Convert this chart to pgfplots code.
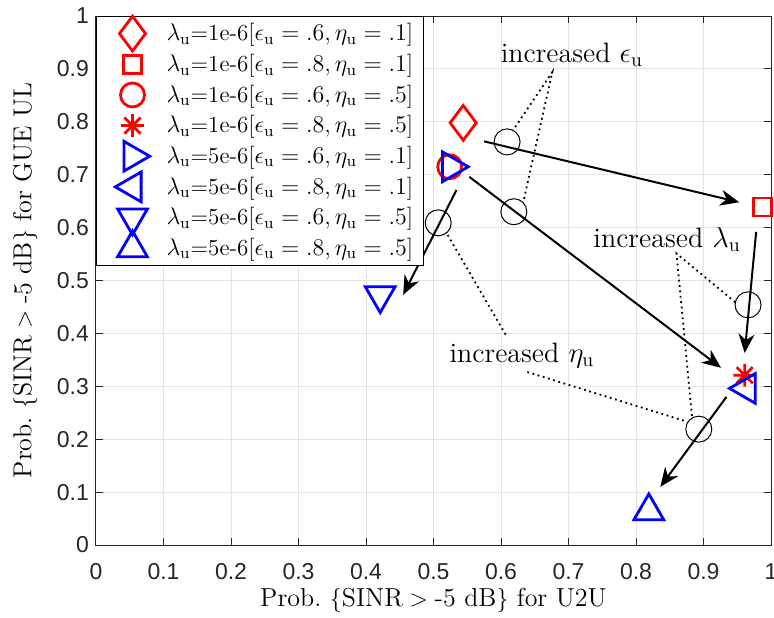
\documentclass[border=0pt]{standalone}
\usepackage{amsmath}
\usepackage{fontspec}
\usepackage{pgfplots}
\pgfplotsset{compat=1.18}
\usetikzlibrary{arrows.meta}
\newfontfamily\tickfont{Liberation Sans}
\definecolor{axgray}{RGB}{38,38,38}
\definecolor{mred}{RGB}{255,0,0}
\definecolor{mblue}{RGB}{0,0,255}
% MATLAB-style asterisk: plus and cross together
\pgfdeclareplotmark{ast8}{%
  \pgfpathmoveto{\pgfqpoint{-\pgfplotmarksize}{0pt}}\pgfpathlineto{\pgfqpoint{\pgfplotmarksize}{0pt}}%
  \pgfpathmoveto{\pgfqpoint{0pt}{-\pgfplotmarksize}}\pgfpathlineto{\pgfqpoint{0pt}{\pgfplotmarksize}}%
  \pgfpathmoveto{\pgfqpoint{-.7071\pgfplotmarksize}{-.7071\pgfplotmarksize}}\pgfpathlineto{\pgfqpoint{.7071\pgfplotmarksize}{.7071\pgfplotmarksize}}%
  \pgfpathmoveto{\pgfqpoint{-.7071\pgfplotmarksize}{.7071\pgfplotmarksize}}\pgfpathlineto{\pgfqpoint{.7071\pgfplotmarksize}{-.7071\pgfplotmarksize}}%
  \pgfusepathqstroke}
\newcommand\labfont{\fontsize{13}{15}\selectfont}
\newcommand\legfont{\fontsize{11.5}{13}\selectfont}
\newcommand\annfont{\fontsize{14}{16}\selectfont}
\newcommand\U{\mathrm{u}}
\begin{document}
\begin{tikzpicture}
\useasboundingbox (-48pt,-36pt) rectangle (339pt,272.5pt);
\begin{axis}[
  at={(0,0)}, anchor=south west,
  width=337.5pt, height=264.5pt, scale only axis,
  xmin=0, xmax=1, ymin=0, ymax=1,
  xtick={0,0.1,0.2,0.3,0.4,0.5,0.6,0.7,0.8,0.9,1},
  ytick={0,0.1,0.2,0.3,0.4,0.5,0.6,0.7,0.8,0.9,1},
  grid=major, major grid style={color=black!11, line width=0.5pt},
  axis line style={axgray, line width=0.5pt},
  tick style={axgray, line width=0.5pt},
  tick align=inside, major tick length=3.5pt,
  tick label style={font=\tickfont\fontsize{11.5}{13}\selectfont, text=axgray},
  xticklabel style={anchor=base, yshift=-17pt},
  /pgf/number format/assume math mode=true,
  label style={font=\labfont},
  xlabel={Prob.\ $\{\mathrm{SINR}>\text{-5 dB}\}$ for U2U},
  ylabel={Prob.\ $\{\mathrm{SINR}>\text{-5 dB}\}$ for GUE UL},
  xlabel style={at={(axis description cs:0.5,-0.104)}, anchor=center},
  ylabel style={at={(axis description cs:-0.105,0.5)}, anchor=center},
  legend style={at={(0,1)}, anchor=north west, draw=black, line width=0.5pt,
    fill=white, font=\legfont, inner xsep=2pt, inner ysep=2pt, row sep=2.2pt,
    nodes={inner xsep=3pt, inner ysep=1.5pt}},
  legend cell align=left,
  legend image code/.code={\path[draw=none, fill=none] (0pt,-5pt) rectangle (30pt,5pt);
    \draw[#1,overlay] plot coordinates {(16pt,0pt)};},
]
% markers
\addplot[only marks, mred, mark=diamond, mark size=8.7pt, mark options={line width=1.4pt}]
  coordinates {(0.544,0.798)};
\addlegendentry{$\lambda_\U$=1e-6[$\epsilon_\U=.6,\eta_\U=.1$]}
\addplot[only marks, mred, mark=square, mark size=4.5pt, mark options={line width=1.4pt}]
  coordinates {(0.987,0.639)};
\addlegendentry{$\lambda_\U$=1e-6[$\epsilon_\U=.8,\eta_\U=.1$]}
\addplot[only marks, mred, mark=o, mark size=6pt, mark options={line width=1.4pt}]
  coordinates {(0.524,0.715)};
\addlegendentry{$\lambda_\U$=1e-6[$\epsilon_\U=.6,\eta_\U=.5$]}
\addplot[only marks, mred, mark=ast8, mark size=5.7pt, mark options={line width=1.4pt}]
  coordinates {(0.961,0.321)};
\addlegendentry{$\lambda_\U$=1e-6[$\epsilon_\U=.8,\eta_\U=.5$]}
\addplot[only marks, mblue, mark=triangle, mark size=8.6pt, mark options={line width=1.4pt, rotate=-90}]
  coordinates {(0.526,0.715)};
\addlegendentry{$\lambda_\U$=5e-6[$\epsilon_\U=.6,\eta_\U=.1$]}
\addplot[only marks, mblue, mark=triangle, mark size=8.6pt, mark options={line width=1.4pt, rotate=90}]
  coordinates {(0.964,0.296)};
\addlegendentry{$\lambda_\U$=5e-6[$\epsilon_\U=.8,\eta_\U=.1$]}
\addplot[only marks, mblue, mark=triangle, mark size=8.6pt, mark options={line width=1.4pt, rotate=180}]
  coordinates {(0.421,0.472)};
\addlegendentry{$\lambda_\U$=5e-6[$\epsilon_\U=.6,\eta_\U=.5$]}
\addplot[only marks, mblue, mark=triangle, mark size=8.6pt, mark options={line width=1.4pt}]
  coordinates {(0.819,0.064)};
\addlegendentry{$\lambda_\U$=5e-6[$\epsilon_\U=.8,\eta_\U=.5$]}
% arrows
\addplot[forget plot, black, line width=1pt, -{Stealth[length=9.5pt, width=8pt, inset=3pt]}]
  coordinates {(0.575,0.763) (0.953,0.648)};
\addplot[forget plot, black, line width=1pt, -{Stealth[length=9.5pt, width=8pt, inset=3pt]}]
  coordinates {(0.553,0.696) (0.926,0.335)};
\addplot[forget plot, black, line width=1pt, -{Stealth[length=9.5pt, width=8pt, inset=3pt]}]
  coordinates {(0.978,0.592) (0.961,0.363)};
\addplot[forget plot, black, line width=1pt, -{Stealth[length=9.5pt, width=8pt, inset=3pt]}]
  coordinates {(0.934,0.280) (0.836,0.110)};
\addplot[forget plot, black, line width=1pt, -{Stealth[length=9.5pt, width=8pt, inset=3pt]}]
  coordinates {(0.534,0.671) (0.455,0.473)};
% circles marking the arrows
\addplot[forget plot, only marks, black, mark=o, mark size=6.5pt, mark options={line width=0.5pt}]
  coordinates {(0.609,0.762) (0.619,0.630) (0.507,0.609) (0.966,0.454) (0.893,0.219)};
% dotted leaders
\addplot[forget plot, black, line width=0.9pt, dash pattern=on 0.9pt off 1.8pt]
  coordinates {(0.621,0.790) (0.676,0.894) (0.633,0.648)};
\addplot[forget plot, black, line width=0.9pt, dash pattern=on 0.9pt off 1.8pt]
  coordinates {(0.947,0.459) (0.860,0.551) (0.883,0.242)};
\addplot[forget plot, black, line width=0.9pt, dash pattern=on 0.9pt off 1.8pt]
  coordinates {(0.521,0.586) (0.609,0.393)};
\addplot[forget plot, black, line width=0.9pt, dash pattern=on 0.9pt off 1.8pt]
  coordinates {(0.639,0.327) (0.876,0.233)};
\node[font=\annfont] at (axis cs:0.705,0.926) {increased $\epsilon_\U$};
\node[font=\annfont] at (axis cs:0.846,0.577) {increased $\lambda_\U$};
\node[font=\annfont] at (axis cs:0.631,0.359) {increased $\eta_\U$};
\end{axis}
\end{tikzpicture}
\end{document}
